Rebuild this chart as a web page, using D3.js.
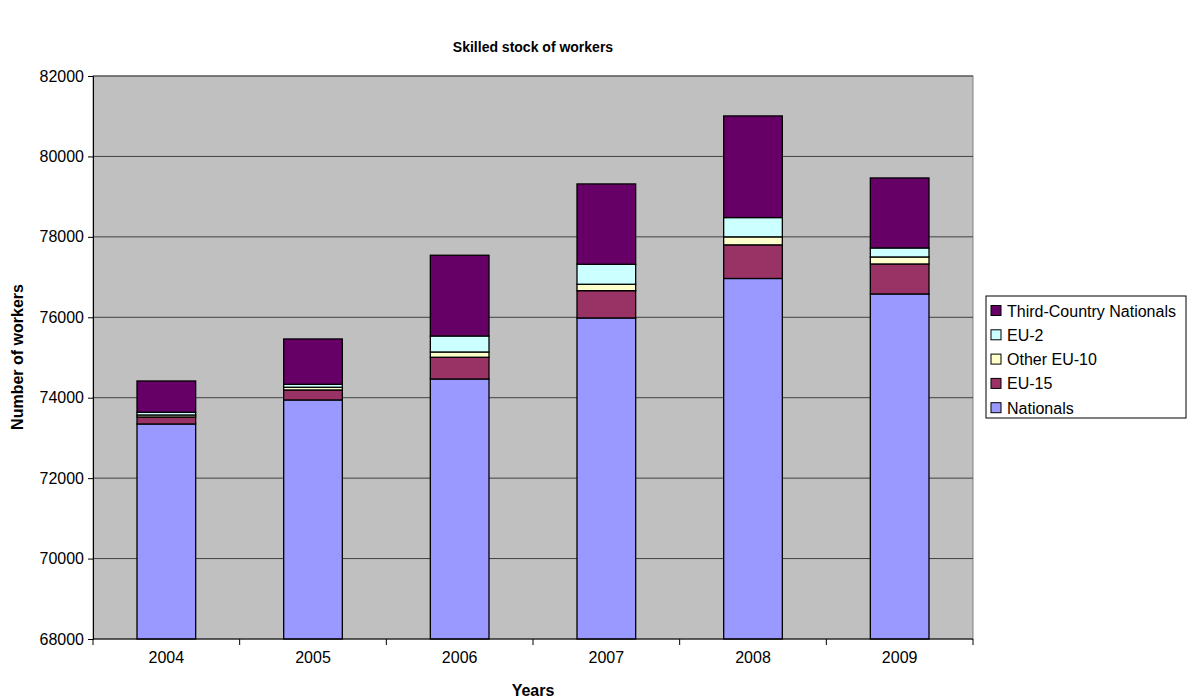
<!DOCTYPE html>
<html>
<head>
<meta charset="utf-8">
<script src="https://cdn.jsdelivr.net/npm/d3@7"></script>
<style>
  body { margin: 0; background: #fff; }
  text { font-family: "Liberation Sans", Arial, sans-serif; }
</style>
</head>
<body>
<div id="canvas"></div>
<script>
"use strict"

// data
let years = ["2004", "2005", "2006", "2007", "2008", "2009"]
let seriesNames = ["Nationals", "EU-15", "Other EU-10", "EU-2", "Third-Country Nationals"]
let nationals = [73347, 73944, 74466, 75983, 76965, 76580]
let eu15 = [174, 249, 540, 679, 836, 746]
let otherEu10 = [50, 67, 131, 159, 199, 174]
let eu2 = [67, 74, 398, 498, 480, 224]
let thirdCountry = [778, 1127, 2008, 1997, 2527, 1741]
let yTicks = [68000, 70000, 72000, 74000, 76000, 78000, 80000, 82000]
let colors = ["#9999ff", "#993366", "#ffffcc", "#ccffff", "#660066"]

let drawing = d3.select("#canvas")
    .append("svg")
    .attr("width", 1194)
    .attr("height", 700)

let plotLeft = 93, plotRight = 973, plotTop = 76, plotBottom = 639

let x = d3.scaleBand().domain(years).range([plotLeft, plotRight]).paddingInner(0.6).paddingOuter(0.3)
let xCat = d3.scaleBand().domain(years).range([plotLeft, plotRight])
let y = d3.scaleLinear().domain([68000, 82000]).range([plotBottom, plotTop])

// plot area
drawing.append("rect")
    .attr("x", plotLeft).attr("y", plotTop)
    .attr("width", plotRight - plotLeft).attr("height", plotBottom - plotTop)
    .attr("fill", "#c0c0c0")
    .attr("stroke", "#808080")

// gridlines
drawing.append("g")
    .selectAll("line")
    .data(yTicks.slice(1))
    .join("line")
    .attr("x1", plotLeft).attr("x2", plotRight)
    .attr("y1", d => y(d)).attr("y2", d => y(d))
    .attr("stroke", "#404040")
    .attr("stroke-width", 1)

// stack the series
let rows = years.map((yr, i) => ({
    year: yr,
    "Nationals": nationals[i],
    "EU-15": eu15[i],
    "Other EU-10": otherEu10[i],
    "EU-2": eu2[i],
    "Third-Country Nationals": thirdCountry[i]
}))
let stacked = d3.stack().keys(seriesNames)(rows)

drawing.append("g")
    .selectAll("g")
    .data(stacked)
    .join("g")
    .attr("fill", (d, i) => colors[i])
    .selectAll("rect")
    .data(d => d)
    .join("rect")
    .attr("x", d => x(d.data.year))
    .attr("width", x.bandwidth())
    .attr("y", d => y(Math.min(d[1], 82000)))
    .attr("height", d => y(Math.max(d[0], 68000)) - y(d[1]))
    .attr("stroke", "#000")
    .attr("stroke-width", 1.3)

// y axis
let yAxis = d3.axisLeft(y).tickValues(yTicks).tickSize(5).tickPadding(4).tickFormat(d3.format("d"))
let yG = drawing.append("g")
    .attr("transform", `translate(${plotLeft},0)`)
    .call(yAxis)
yG.selectAll("text").attr("font-size", 16).attr("fill", "#000").style("font-family", "Liberation Sans, Arial, sans-serif")
yG.select(".domain").attr("stroke", "#000")

// x axis, ticks at category boundaries
let xG = drawing.append("g")
    .attr("transform", `translate(0,${plotBottom})`)
xG.append("line")
    .attr("x1", plotLeft).attr("x2", plotRight)
    .attr("stroke", "#000")
xG.selectAll("line.tick")
    .data(years.concat(["end"]))
    .join("line")
    .attr("class", "tick")
    .attr("x1", (d, i) => plotLeft + i * xCat.step())
    .attr("x2", (d, i) => plotLeft + i * xCat.step())
    .attr("y1", 0).attr("y2", 6)
    .attr("stroke", "#000")
xG.selectAll("text")
    .data(years)
    .join("text")
    .attr("x", d => xCat(d) + xCat.bandwidth() / 2)
    .attr("y", 24)
    .attr("text-anchor", "middle")
    .attr("font-size", 16)
    .text(d => d)

// titles
drawing.append("text")
    .attr("x", 533).attr("y", 52)
    .attr("text-anchor", "middle")
    .attr("font-size", 14).attr("font-weight", "bold")
    .text("Skilled stock of workers")

drawing.append("text")
    .attr("x", 533).attr("y", 696)
    .attr("text-anchor", "middle")
    .attr("font-size", 16).attr("font-weight", "bold")
    .text("Years")

drawing.append("text")
    .attr("transform", "translate(23,357) rotate(-90)")
    .attr("text-anchor", "middle")
    .attr("font-size", 16).attr("font-weight", "bold")
    .text("Number of workers")

// legend, reversed order like the original
let legend = drawing.append("g")
legend.append("rect")
    .attr("x", 986).attr("y", 296)
    .attr("width", 200).attr("height", 122)
    .attr("fill", "#fff")
    .attr("stroke", "#000")

let legendItems = seriesNames.map((n, i) => ({ name: n, color: colors[i] })).reverse()
let item = legend.selectAll("g.item")
    .data(legendItems)
    .join("g")
    .attr("class", "item")
    .attr("transform", (d, i) => `translate(991,${310.5 + i * 24.3})`)
item.append("rect")
    .attr("x", 0).attr("y", -5)
    .attr("width", 10).attr("height", 10)
    .attr("fill", d => d.color)
    .attr("stroke", "#000")
item.append("text")
    .attr("x", 16).attr("y", 6)
    .attr("font-size", 16)
    .text(d => d.name)
</script>
</body>
</html>
